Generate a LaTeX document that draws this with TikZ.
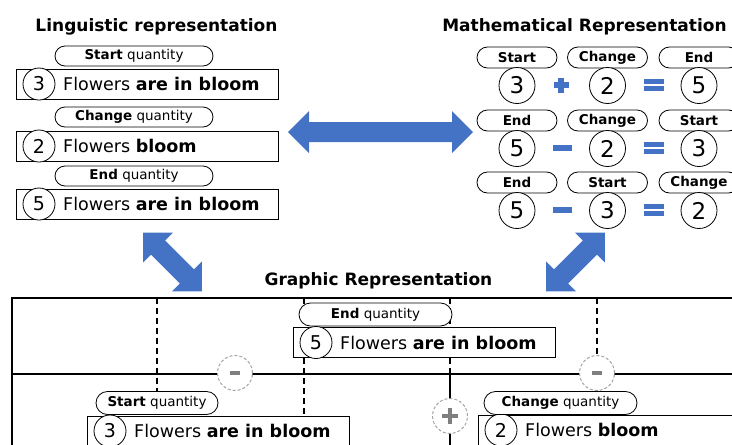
\documentclass[tikz,border=0pt]{standalone}
\usepackage{fontspec}
\setmainfont{DejaVu Sans}
\usetikzlibrary{shapes.misc}
\definecolor{officeblue}{HTML}{4472C4}
\definecolor{markgray}{HTML}{7F7F7F}

% a sentence box: frame, number circle and the words
\newcommand\bloomline[4]{%
  \node[sentence, anchor=west] (#1) at (#2) {};
  \node[numcirc] (#1-n) at ([xshift=23pt]#1.west) {#3};
  \node[words] (#1-t) at ([xshift=47pt]#1.west) {#4};
}

\tikzset{
  heading/.style={font=\fontsize{17}{19}\selectfont\bfseries, inner sep=0},
  pill/.style={rounded rectangle, draw, fill=white, line width=0.8pt, inner sep=0,
    minimum height=20pt, font=\fontsize{13.5}{15}\selectfont},
  mathpill/.style={pill, minimum width=80pt, minimum height=21pt,
    font=\fontsize{13.5}{15}\selectfont\bfseries},
  sentence/.style={draw, fill=white, line width=0.8pt, minimum width=262pt,
    minimum height=30pt, inner sep=0},
  numcirc/.style={circle, draw, fill=white, line width=0.8pt, minimum size=32pt,
    inner sep=0, font=\fontsize{19}{21}\selectfont},
  bignum/.style={numcirc, minimum size=36pt, font=\fontsize{23}{25}\selectfont},
  words/.style={anchor=west, inner sep=0, font=\fontsize{17.5}{19}\selectfont},
  frame/.style={line width=2.4pt},
  guide/.style={line width=1.1pt, dash pattern=on 6pt off 4pt},
  opcirc/.style={circle, draw=markgray!70, dash pattern=on 3pt off 2pt, fill=white,
    line width=1pt, minimum size=35pt, inner sep=0},
  pics/dblarrow/.style={code={
    \fill[officeblue] (-#1,0) -- ({-#1+21},21) -- ({-#1+21},10) -- ({#1-21},10)
      -- ({#1-21},21) -- (#1,0) -- ({#1-21},-21) -- ({#1-21},-10)
      -- ({-#1+21},-10) -- ({-#1+21},-21) -- cycle;}},
  pics/mathplus/.style={code={
    \fill[officeblue] (-7.5,-2.6) rectangle (7.5,2.6);
    \fill[officeblue] (-2.6,-7.5) rectangle (2.6,7.5);}},
  pics/mathminus/.style={code={\fill[officeblue] (-9.5,-2.7) rectangle (9.5,2.7);}},
  pics/mathequals/.style={code={
    \fill[officeblue] (-10,-6.3) rectangle (10,-1.2);
    \fill[officeblue] (-10,1.2) rectangle (10,6.3);}},
  pics/grayminus/.style={code={\fill[markgray] (-5,-2) rectangle (5,2);}},
  pics/grayplus/.style={code={
    \fill[markgray] (-8,-2) rectangle (8,2);
    \fill[markgray] (-2,-8) rectangle (2,8);}},
}

\begin{document}
\begin{tikzpicture}[x=1pt, y=-1pt]
\useasboundingbox (0,0) rectangle (732,445);
\clip (0,0) rectangle (732,445);

% ---------- linguistic representation ----------
\node[heading, anchor=base] (ltitle) at (156.5,31) {Linguistic representation};
\node[pill, minimum width=158pt] (lp1) at (134,56) {\textbf{Start} quantity};
\bloomline{lr1}{16,84}{3}{Flowers \textbf{are in bloom}}
\node[pill, minimum width=158pt] (lp2) at (134,117) {\textbf{Change} quantity};
\bloomline{lr2}{16,146}{2}{Flowers \textbf{bloom}}
\node[pill, minimum width=158pt] (lp3) at (134,176) {\textbf{End} quantity};
\bloomline{lr3}{16,204}{5}{Flowers \textbf{are in bloom}}

% ---------- mathematical representation ----------
\node[heading, anchor=base] (mtitle) at (584.5,31) {Mathematical Representation};
% start + change = end
\node[mathpill] (m1a) at (517,57.5) {Start};
\node[mathpill] (m1b) at (607.5,57.5) {Change};
\node[mathpill] (m1c) at (699,57.5) {End};
\node[bignum] (n1a) at (517,85.5) {3};
\node[bignum] (n1b) at (607.5,85.5) {2};
\node[bignum] (n1c) at (699,85.5) {5};
\pic at (561,85) {mathplus};
\pic at (653.5,85) {mathequals};
% end - change = start
\node[mathpill] (m2a) at (517,120.5) {End};
\node[mathpill] (m2b) at (607.5,120.5) {Change};
\node[mathpill] (m2c) at (699,120.5) {Start};
\node[bignum] (n2a) at (517,148.5) {5};
\node[bignum] (n2b) at (607.5,148.5) {2};
\node[bignum] (n2c) at (699,148.5) {3};
\pic at (562.5,148) {mathminus};
\pic at (653.5,148) {mathequals};
% end - start = change
\node[mathpill] (m3a) at (517,182.5) {End};
\node[mathpill] (m3b) at (607.5,182.5) {Start};
\node[mathpill] (m3c) at (699,182.5) {Change};
\node[bignum] (n3a) at (517,210.5) {5};
\node[bignum] (n3b) at (607.5,210.5) {3};
\node[bignum] (n3c) at (699,210.5) {2};
\pic at (562.5,210) {mathminus};
\pic at (653.5,210) {mathequals};

% ---------- block arrows between the representations ----------
\pic at (380.5,132) {dblarrow=92.5};
\pic[rotate=-45] at (172.5,262) {dblarrow=41.4};
\pic[rotate=45] at (575.5,262) {dblarrow=41.4};

% ---------- graphic representation ----------
\node[heading, anchor=base] (gtitle) at (378.5,285.5) {Graphic Representation};

\coordinate (ftop) at (12,298);
\coordinate (fmid) at (12,374);
\coordinate (t1) at (157,298);
\coordinate (t2) at (304,298);
\coordinate (t3) at (450,298);
\coordinate (t4) at (597,298);
\draw[frame] (740,298) -- (ftop) -- (12,450);
\draw[frame] (fmid) -- (740,374);

% segment guides
\coordinate (gpStartTop) at (157,391.5);
\coordinate (gpChangeTop) at (597,392);
\draw[guide] (t1) -- (gpStartTop);
\draw[guide] (t2) -- (304,416);
\draw[guide] (t3) -- (450,374);
\draw[guide] (t4) -- (gpChangeTop);
\draw[frame] (450,374) -- (450,450);

% boxes drawn over the guides
\node[pill, minimum width=153pt, minimum height=23pt] (gpEnd) at (375.5,314.5) {\textbf{End} quantity};
\bloomline{grEnd}{293,342.5}{5}{Flowers \textbf{are in bloom}}
\bloomline{grStart}{87,431}{3}{Flowers \textbf{are in bloom}}
\bloomline{grChange}{478,430}{2}{Flowers \textbf{bloom}}
\node[pill, minimum width=122pt, minimum height=23pt] (gpStart) at (157,403) {\textbf{Start} quantity};
\node[pill, minimum width=153pt, minimum height=23pt] (gpChange) at (560.5,403) {\textbf{Change} quantity};

% operation markers on the bars
\node[opcirc] (gm1) at (235,373) {};
\node[opcirc] (gm2) at (597,373) {};
\node[opcirc] (gpl) at (450,416) {};
\pic at (gm1) {grayminus};
\pic at (gm2) {grayminus};
\pic at (gpl) {grayplus};
\end{tikzpicture}
\end{document}
